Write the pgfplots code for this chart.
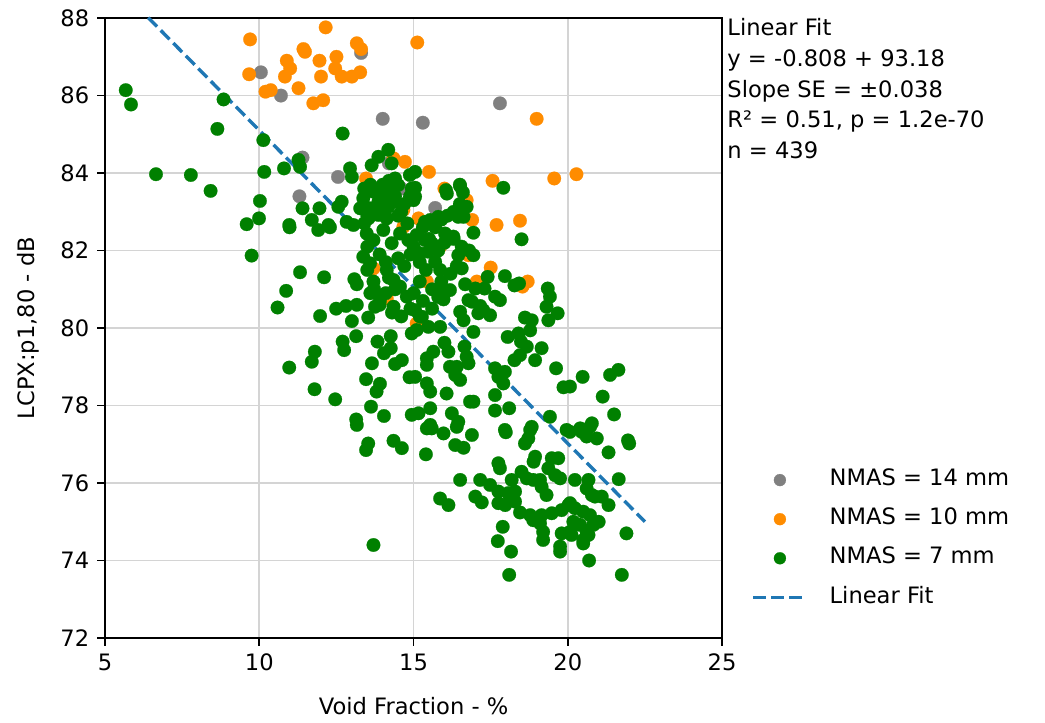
\documentclass[border=0pt]{standalone}
\usepackage{pgfplots}
\pgfplotsset{compat=1.18}
\usepackage{fontspec}
\setmainfont{DejaVu Sans}
\definecolor{mplgray}{HTML}{808080}
\definecolor{mplorange}{HTML}{FF8C00}
\definecolor{mplgreen}{HTML}{008000}
\definecolor{mplblue}{HTML}{1F77B4}
\pgfplotsset{
  dotlegend/.style={legend image code/.code={\draw[mark repeat=2,mark phase=2,##1,mark size=2.65pt] plot coordinates {(0pt,0pt) (11.75pt,0pt) (23.5pt,0pt)};}},
  fitlegend/.style={legend image code/.code={\draw[##1] (0pt,0pt) -- (23.5pt,0pt);}},
}
\begin{document}
\begin{tikzpicture}
\begin{axis}[
  at={(0,0)}, anchor=south west,
  scale only axis, width=273pt, height=274.3pt,
  xmin=5, xmax=25, ymin=72, ymax=88,
  xtick={5,10,15,20,25}, ytick={72,74,...,88},
  tick pos=left, tick align=outside, major tick length=3.5pt,
  every tick/.style={black, line width=0.8pt},
  axis line style={line width=0.8pt},
  grid=major, major grid style={black!17, line width=0.8pt},
  /pgf/number format/assume math mode=true,
  xlabel={Void Fraction - \%}, ylabel={LCPX:p1,80 - dB},
  xlabel shift=5pt, ylabel shift=2.5pt,
  clip=false,
  legend cell align=left,
  legend style={draw=none, fill=none, at={(1.048,0.034)}, anchor=south west,
    inner sep=0pt, outer sep=0pt,
    nodes={text height=7.5pt, text depth=2.5pt, inner ysep=3.65pt, inner xsep=0pt, anchor=west},
    /tikz/every odd column/.append style={column sep=9.5pt}},
  dotlegend,
]
\addplot[only marks, mark=*, mark size=3pt, color=mplgray, mark options={fill=mplgray, draw=mplgray, line width=0.1pt}] table {
x y
10.05 86.6
10.7 86.0
13.3 87.1
14.0 85.4
15.3 85.3
17.8 85.8
11.4 84.4
14.2 84.25
12.55 83.9
11.3 83.4
14.6 83.6
15.7 83.1
};
\addlegendentry{NMAS = 14 mm}
\addplot[only marks, mark=*, mark size=3pt, color=mplorange, mark options={fill=mplorange, draw=mplorange, line width=0.1pt}] table {
x y
9.7 87.45
9.67 86.55
10.2 86.1
10.37 86.14
12.15 87.76
13.16 87.35
13.3 87.2
15.12 87.37
11.43 87.2
11.48 87.13
10.89 86.9
11.0 86.7
10.83 86.49
11.95 86.9
12.5 87.0
12.46 86.7
12.67 86.49
13.0 86.49
13.27 86.6
12.0 86.49
11.27 86.19
11.75 85.8
12.07 85.88
14.35 84.38
14.72 84.29
13.46 83.86
14.67 83.05
18.99 85.4
15.5 84.03
17.56 83.8
19.56 83.86
20.28 83.97
16.0 83.6
16.72 83.3
16.9 82.79
17.69 82.66
18.45 82.77
15.16 82.83
15.86 82.1
16.78 81.88
17.5 81.56
15.43 81.2
17.05 81.2
18.7 81.2
18.53 81.07
15.1 80.12
14.67 82.61
13.7 81.54
14.13 80.77
};
\addlegendentry{NMAS = 10 mm}
\addplot[only marks, mark=*, mark size=3pt, color=mplgreen, mark options={fill=mplgreen, draw=mplgreen, line width=0.1pt}] table {
x y
5.67 86.14
5.84 85.77
8.84 85.9
8.64 85.14
6.65 83.97
7.78 83.95
8.42 83.54
10.13 84.85
10.16 84.03
10.02 83.28
9.99 82.83
9.59 82.68
9.75 81.87
10.8 84.12
11.27 84.34
11.32 84.16
12.7 85.02
12.94 84.12
13.0 83.9
13.64 84.2
13.86 84.42
14.18 84.6
14.29 84.25
14.4 83.86
14.5 83.69
14.88 83.95
14.94 83.6
14.88 83.39
11.4 83.09
11.95 83.09
10.97 82.66
11.7 82.79
12.24 82.66
12.67 83.26
12.56 83.13
13.37 83.35
13.7 83.52
13.86 83.26
13.59 83.09
14.02 83.39
14.18 83.13
13.27 83.09
13.54 82.83
13.86 82.92
14.13 82.83
14.29 83.52
14.35 83.26
12.83 82.74
10.98 82.6
11.91 82.53
12.29 82.6
13.05 82.66
11.32 81.44
12.1 81.31
13.08 81.26
13.16 81.13
10.87 80.96
10.59 80.53
11.97 80.31
12.49 80.5
12.81 80.57
13.16 80.6
13.0 80.18
13.53 80.27
13.72 81.0
13.14 79.79
12.7 79.65
12.75 79.43
11.8 79.39
11.7 79.13
10.97 78.98
13.83 79.65
14.26 79.79
14.26 79.48
14.04 79.35
13.65 79.09
14.62 79.17
14.4 79.07
14.87 78.73
13.46 78.68
13.91 78.56
13.8 78.36
11.79 78.42
12.46 78.16
13.62 77.97
14.04 77.73
14.94 77.76
13.14 77.64
13.16 77.5
13.53 77.02
13.46 76.85
14.35 77.09
14.62 76.9
13.7 74.4
14.94 79.86
13.48 82.44
13.7 82.27
14.02 82.53
14.29 82.19
14.56 82.44
14.83 82.27
13.37 81.84
13.59 81.67
14.13 81.5
14.35 81.24
14.56 81.07
14.78 80.81
14.35 80.55
13.75 80.55
13.91 80.72
14.5 81.8
14.7 81.6
14.9 81.9
15.0 82.1
15.2 81.7
15.4 81.5
14.1 81.7
13.9 81.9
14.2 81.3
14.4 81.0
15.0 80.9
15.2 81.2
15.3 80.7
15.6 80.5
15.8 80.8
13.7 81.2
13.9 80.6
14.1 80.9
14.3 80.4
14.6 80.3
14.9 80.5
15.2 80.3
13.5 82.9
13.7 83.0
14.0 83.0
14.5 82.9
14.8 82.7
15.0 83.3
15.3 82.6
15.5 82.3
15.7 82.6
15.9 82.8
16.1 82.9
16.3 83.0
16.5 83.2
16.6 83.5
16.5 83.7
14.2 83.8
14.0 83.7
13.8 83.5
14.4 83.4
14.7 83.2
14.6 83.0
13.6 83.7
13.4 83.6
13.4 82.7
13.5 82.1
13.5 81.5
13.6 80.9
15.6 81.0
15.9 81.2
16.2 81.4
16.0 82.2
15.8 82.0
16.4 81.6
16.3 82.3
16.8 82.0
15.05 84.03
15.05 83.62
15.05 83.39
16.51 83.66
16.08 83.47
16.05 83.56
17.91 83.62
16.51 83.13
16.72 83.13
16.45 82.87
16.62 82.87
15.8 82.87
15.54 82.79
15.37 82.74
16.94 82.46
18.5 82.29
16.02 82.44
16.29 82.36
16.56 82.1
16.45 81.88
15.37 82.27
15.59 82.19
15.48 81.97
15.7 81.71
15.86 81.5
15.1 82.4
15.2 81.93
16.94 81.88
16.56 81.54
17.4 81.32
17.3 81.02
17.96 81.34
18.27 81.1
18.42 81.15
16.67 81.13
17.0 81.02
15.75 80.98
16.07 80.96
16.18 80.98
15.97 80.74
16.78 80.72
16.89 80.68
17.16 80.57
17.26 80.46
17.48 80.33
17.1 80.38
17.8 80.72
17.64 80.81
16.51 80.42
16.62 80.2
16.94 79.9
19.35 81.02
19.42 80.81
19.31 80.55
19.67 80.38
19.37 80.2
18.61 80.27
18.83 80.2
18.78 79.94
18.05 79.77
18.4 79.86
18.48 79.65
18.67 79.52
18.45 79.3
18.94 79.17
19.15 79.48
18.27 79.17
19.62 78.96
19.86 78.47
19.42 77.71
17.64 78.96
17.96 78.87
17.75 78.74
17.91 78.57
17.64 78.27
17.64 77.87
18.1 77.93
16.0 79.62
16.13 79.39
16.65 79.52
16.72 79.26
16.78 79.09
15.64 79.39
15.43 79.22
15.43 79.05
16.18 79.0
16.4 79.0
16.35 78.79
16.51 78.66
15.43 78.57
15.54 78.36
16.07 78.31
16.83 78.1
16.94 78.1
15.54 77.93
16.24 77.8
16.45 77.58
15.16 77.8
15.54 77.5
15.59 77.41
17.96 77.37
18.83 77.45
19.96 77.37
15.1 79.95
15.05 78.74
15.86 80.03
15.48 80.03
15.05 80.46
15.27 80.29
15.43 77.41
15.97 77.28
16.4 77.45
16.89 77.24
16.35 76.98
16.62 76.91
17.99 77.31
18.78 77.37
18.72 77.15
18.61 77.02
15.4 76.74
17.75 76.51
17.8 76.38
18.94 76.68
18.89 76.55
19.48 76.64
19.69 76.64
19.37 76.38
19.59 76.2
19.75 76.12
16.51 76.08
17.16 76.08
17.48 75.95
18.18 76.08
18.5 76.29
18.67 76.12
18.88 76.08
19.1 76.08
19.15 75.9
19.31 75.69
18.29 75.78
18.07 75.74
15.86 75.6
16.13 75.43
17.0 75.65
17.21 75.5
17.75 75.48
17.97 75.43
18.29 75.52
18.45 75.24
18.78 75.17
19.15 75.17
19.48 75.22
19.8 75.3
20.02 75.43
18.88 75.04
19.1 74.96
19.2 74.74
19.2 74.53
19.8 74.7
20.07 74.74
19.75 74.36
19.75 74.23
17.89 74.87
17.73 74.5
18.16 74.23
18.1 73.63
17.75 75.78
18.13 75.6
20.07 77.32
20.45 77.32
20.72 77.45
20.61 77.2
20.94 77.15
21.99 77.02
21.95 77.1
21.32 76.79
21.65 76.1
20.23 76.08
20.67 76.08
20.61 75.86
20.88 75.65
21.1 75.65
21.32 75.43
20.78 75.69
20.07 75.48
20.23 75.35
20.5 75.26
20.72 75.17
21.0 75.0
20.83 74.92
20.18 75.0
20.4 74.92
20.61 74.74
20.12 74.66
20.5 74.53
20.67 74.66
20.5 74.44
21.9 74.7
20.69 74.0
21.75 73.63
20.48 78.74
21.37 78.79
21.64 78.92
21.13 78.23
21.5 77.77
20.78 77.54
20.4 77.41
20.07 78.49
};
\addlegendentry{NMAS = 7 mm}
\addplot[mplblue, line width=1.5pt, dash pattern=on 5.5pt off 2.4pt, fitlegend] coordinates {(6.4,88.01) (22.5,75.0)};
\addlegendentry{Linear Fit}
\node[anchor=north west, align=left, inner sep=0pt, font={\fontsize{10pt}{13.6pt}\selectfont}] at (axis description cs:1.008,1.0)
  {Linear Fit\\y = -0.808 + 93.18\\Slope SE = ±0.038\\R² = 0.51, p = 1.2e-70\\n = 439};
\end{axis}
\pgfresetboundingbox
\path[use as bounding box] (-46.5pt,-37.2pt) rectangle (415.9pt,282.3pt);
\end{tikzpicture}
\end{document}
